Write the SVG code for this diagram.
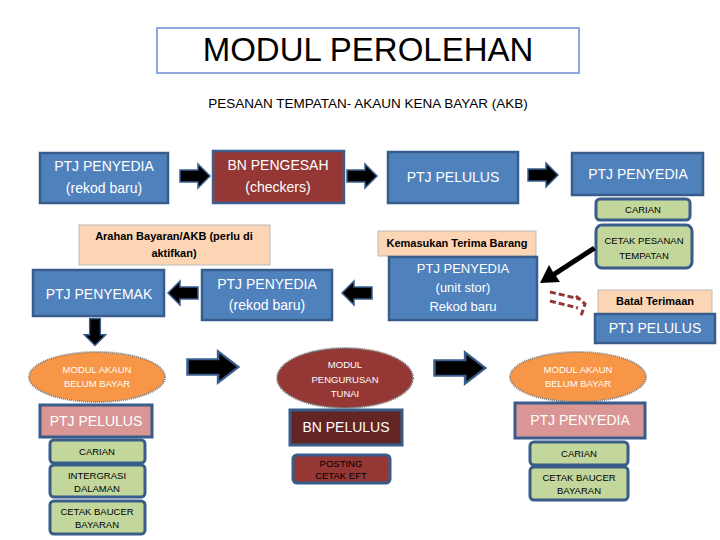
<svg xmlns="http://www.w3.org/2000/svg" width="720" height="540" viewBox="0 0 720 540">
<defs>
<path id="arr" d="M-15,-6 H3 V-12 L15,0 L3,12 V6 H-15 Z" fill="#000" stroke="#3a5f8f" stroke-width="1.5"/>
</defs>
<style>
text{font-family:"Liberation Sans",Arial,sans-serif;text-anchor:middle;dominant-baseline:middle}
.b{fill:#4f81bd;stroke:#385d8a;stroke-width:2.5}
.r{fill:#953735;stroke:#3a5f8f;stroke-width:2.5}
.g{fill:#c3d69b;stroke:#385d8a;stroke-width:3}
.p{fill:#fcd5b5;stroke:#bbb;stroke-width:1}
.k{fill:#d99694;stroke:#385d8a;stroke-width:3}
.w{fill:#fff;font-size:14px}
.e{fill:#fff;font-size:9.5px}
.s{fill:#000;font-size:9.5px}
.t{fill:#000;font-size:11px;font-weight:bold}
</style>
<rect width="720" height="540" fill="#fff"/>
<g id="title"><rect x="157" y="28" width="422" height="45" fill="#fff" stroke="#8eaadb" stroke-width="2"/><text x="368" y="52" font-size="33">MODUL PEROLEHAN</text></g>
<text x="368" y="104" font-size="13.5">PESANAN TEMPATAN- AKAUN KENA BAYAR (AKB)</text>
<g id="n1"><rect class="b" x="40" y="153" width="128" height="50"/><text class="w" x="104" y="167">PTJ PENYEDIA</text><text class="w" x="104" y="189">(rekod baru)</text></g>
<g id="n2"><rect class="r" x="213" y="151" width="131" height="52"/><text class="w" x="278" y="166">BN PENGESAH</text><text class="w" x="278" y="188">(checkers)</text></g>
<g id="n3"><rect class="b" x="388" y="152" width="130" height="51"/><text class="w" x="453" y="178">PTJ PELULUS</text></g>
<g id="n4"><rect class="b" x="572" y="153" width="131" height="42"/><text class="w" x="638" y="175">PTJ PENYEDIA</text></g>
<g id="n5"><rect class="g" x="596" y="199" width="94" height="21" rx="4"/><text class="s" x="643" y="210">CARIAN</text></g>
<g id="n6"><rect class="g" x="596" y="225" width="96" height="43" rx="6"/><text class="s" x="644" y="241">CETAK PESANAN</text><text class="s" x="644" y="256">TEMPATAN</text></g>
<g id="n7"><rect class="p" x="79" y="225" width="191" height="40"/><text class="t" x="174" y="237">Arahan Bayaran/AKB (perlu di</text><text class="t" x="174" y="254">aktifkan)</text></g>
<g id="n8"><rect class="p" x="378" y="231" width="158" height="25"/><text class="t" x="457" y="244">Kemasukan Terima Barang</text></g>
<g id="n9"><rect class="b" x="33" y="270" width="131" height="46"/><text class="w" x="99" y="295">PTJ PENYEMAK</text></g>
<g id="n10"><rect class="b" x="202" y="270" width="130" height="50"/><text class="w" x="267" y="285">PTJ PENYEDIA</text><text class="w" x="267" y="306">(rekod baru)</text></g>
<g id="n11"><rect class="b" x="389" y="257" width="148" height="63"/><text class="w" x="463" y="270" style="font-size:13px">PTJ PENYEDIA</text><text class="w" x="463" y="289" style="font-size:13px">(unit stor)</text><text class="w" x="463" y="308" style="font-size:13px">Rekod baru</text></g>
<g id="n12"><rect class="p" x="598" y="290" width="114" height="24" stroke="none"/><text class="t" x="655" y="302">Batal Terimaan</text></g>
<g id="n13"><rect class="b" x="595" y="314" width="120" height="29"/><text class="w" x="655" y="329">PTJ PELULUS</text></g>
<g id="n14"><ellipse cx="97" cy="377" rx="68" ry="25" fill="#f79646" stroke="#7f7f7f" stroke-dasharray="1 1" stroke-width="2"/><text class="e" x="97" y="370">MODUL AKAUN</text><text class="e" x="97" y="384">BELUM BAYAR</text></g>
<g id="n15"><rect class="k" x="40" y="405" width="112" height="32"/><text class="w" x="96" y="422">PTJ PELULUS</text></g>
<g id="n16"><rect class="g" x="50" y="440" width="95" height="23" rx="4"/><text class="s" x="97" y="452">CARIAN</text></g>
<g id="n17"><rect class="g" x="50" y="465" width="95" height="32" rx="4"/><text class="s" x="97" y="476">INTERGRASI</text><text class="s" x="97" y="489">DALAMAN</text></g>
<g id="n18"><rect class="g" x="50" y="501" width="95" height="33" rx="4"/><text class="s" x="97" y="512">CETAK BAUCER</text><text class="s" x="97" y="525">BAYARAN</text></g>
<g id="n19"><ellipse cx="345" cy="378" rx="68" ry="30" fill="#953735" stroke="#7f7f7f" stroke-dasharray="1 1" stroke-width="2"/><text class="e" x="345" y="365">MODUL</text><text class="e" x="345" y="380">PENGURUSAN</text><text class="e" x="345" y="394">TUNAI</text></g>
<g id="n20"><rect x="290" y="410" width="112" height="35" fill="#632523" stroke="#385d8a" stroke-width="3"/><text class="w" x="346" y="428">BN PELULUS</text></g>
<g id="n21"><rect x="293" y="455" width="97" height="28" rx="4" fill="#953735" stroke="#385d8a" stroke-width="3"/><text class="s" x="341" y="464">POSTING</text><text class="s" x="341" y="476">CETAK EFT</text></g>
<g id="n22"><ellipse cx="578" cy="377" rx="68" ry="25" fill="#f79646" stroke="#7f7f7f" stroke-dasharray="1 1" stroke-width="2"/><text class="e" x="578" y="370">MODUL AKAUN</text><text class="e" x="578" y="384">BELUM BAYAR</text></g>
<g id="n23"><rect class="k" x="515" y="403" width="130" height="35"/><text class="w" x="580" y="421">PTJ PENYEDIA</text></g>
<g id="n24"><rect class="g" x="530" y="442" width="98" height="23" rx="4"/><text class="s" x="579" y="454">CARIAN</text></g>
<g id="n25"><rect class="g" x="530" y="467" width="98" height="33" rx="4"/><text class="s" x="579" y="478">CETAK BAUCER</text><text class="s" x="579" y="491">BAYARAN</text></g>
<g id="connectors">
<use href="#arr" transform="translate(195,176)"/>
<use href="#arr" transform="translate(362,176)"/>
<use href="#arr" transform="translate(543,175)"/>
<use href="#arr" transform="translate(183,293) rotate(180)"/>
<use href="#arr" transform="translate(357,293) rotate(180)"/>
<use href="#arr" transform="translate(95,332) rotate(90) scale(0.9)"/>
<use href="#arr" transform="translate(213,367) scale(1.7,1.3)"/>
<use href="#arr" transform="translate(460,368) scale(1.7,1.3)"/>
<path d="M593,246 L553,272 L549,265 L540,283 L560,282 L556,276 L596,250 Z" fill="#000"/>
<g fill="none" stroke="#953735" stroke-width="3" stroke-dasharray="6 3">
<path d="M550,292 L580,299"/><path d="M550,301 L578,308"/><path d="M576,296 L585,304 L581,316"/>
</g>
</g>
</svg>
